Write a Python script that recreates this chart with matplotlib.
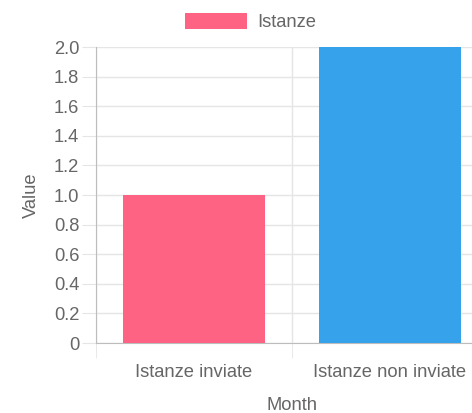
import matplotlib.pyplot as plt

# data
categories = ['Istanze inviate', 'Istanze non inviate']
values = [1, 2]
colors = ['#FF6384', '#36A2EB']
yticks = [0, 0.2, 0.4, 0.6, 0.8, 1.0, 1.2, 1.4, 1.6, 1.8, 2.0]
ytick_labels = ['0', '0.2', '0.4', '0.6', '0.8', '1.0', '1.2', '1.4', '1.6', '1.8', '2.0']

plt.rcParams['font.family'] = ['Liberation Sans', 'DejaVu Sans']
txt = '#666666'
grid = '#e5e5e5'
axc = '#bdbdbd'
fs = 13.2

W, H = 472, 413
fig = plt.figure(figsize=(W / 100, H / 100), dpi=100)
# plot area in pixels: x 96..488 (cropped on the right), y 47..343
ax = fig.add_axes([96 / W, (H - 343) / H, 392 / W, 296 / H])

x = list(range(len(categories)))
ax.bar(x, values, width=0.72, color=colors, label='Istanze', zorder=3)

ax.set_xlim(-0.5, 1.5)
ax.set_ylim(0, 2)
ax.set_yticks(yticks)
ax.set_yticklabels(ytick_labels)
ax.set_xticks(x)
ax.set_xticklabels(categories)
ax.set_xticks([-0.5, 0.5, 1.5], minor=True)

for s in ['top', 'right']:
    ax.spines[s].set_visible(False)
ax.spines['left'].set_color(axc)
ax.spines['bottom'].set_color(axc)

ax.grid(axis='y', color=grid, linewidth=1, zorder=0)
ax.grid(axis='x', which='minor', color=grid, linewidth=1, zorder=0)
ax.tick_params(axis='y', colors=grid, labelcolor=txt, labelsize=fs, length=10, pad=2)
ax.tick_params(axis='x', which='major', length=0, labelcolor=txt, labelsize=fs, pad=15)
ax.tick_params(axis='x', which='minor', length=11, color=grid)

ax.set_ylabel('Value', color=txt, fontsize=fs, labelpad=10)
ax.set_xlabel('Month', color=txt, fontsize=fs, labelpad=12)

leg = fig.legend(loc='center left', bbox_to_anchor=(185 / W, (H - 22) / H), frameon=False,
                 fontsize=fs, handlelength=3.4, handleheight=1.0, handletextpad=0.55, borderpad=0, borderaxespad=0)
for t in leg.get_texts():
    t.set_color(txt)

fig.savefig('out.png', dpi=100)
